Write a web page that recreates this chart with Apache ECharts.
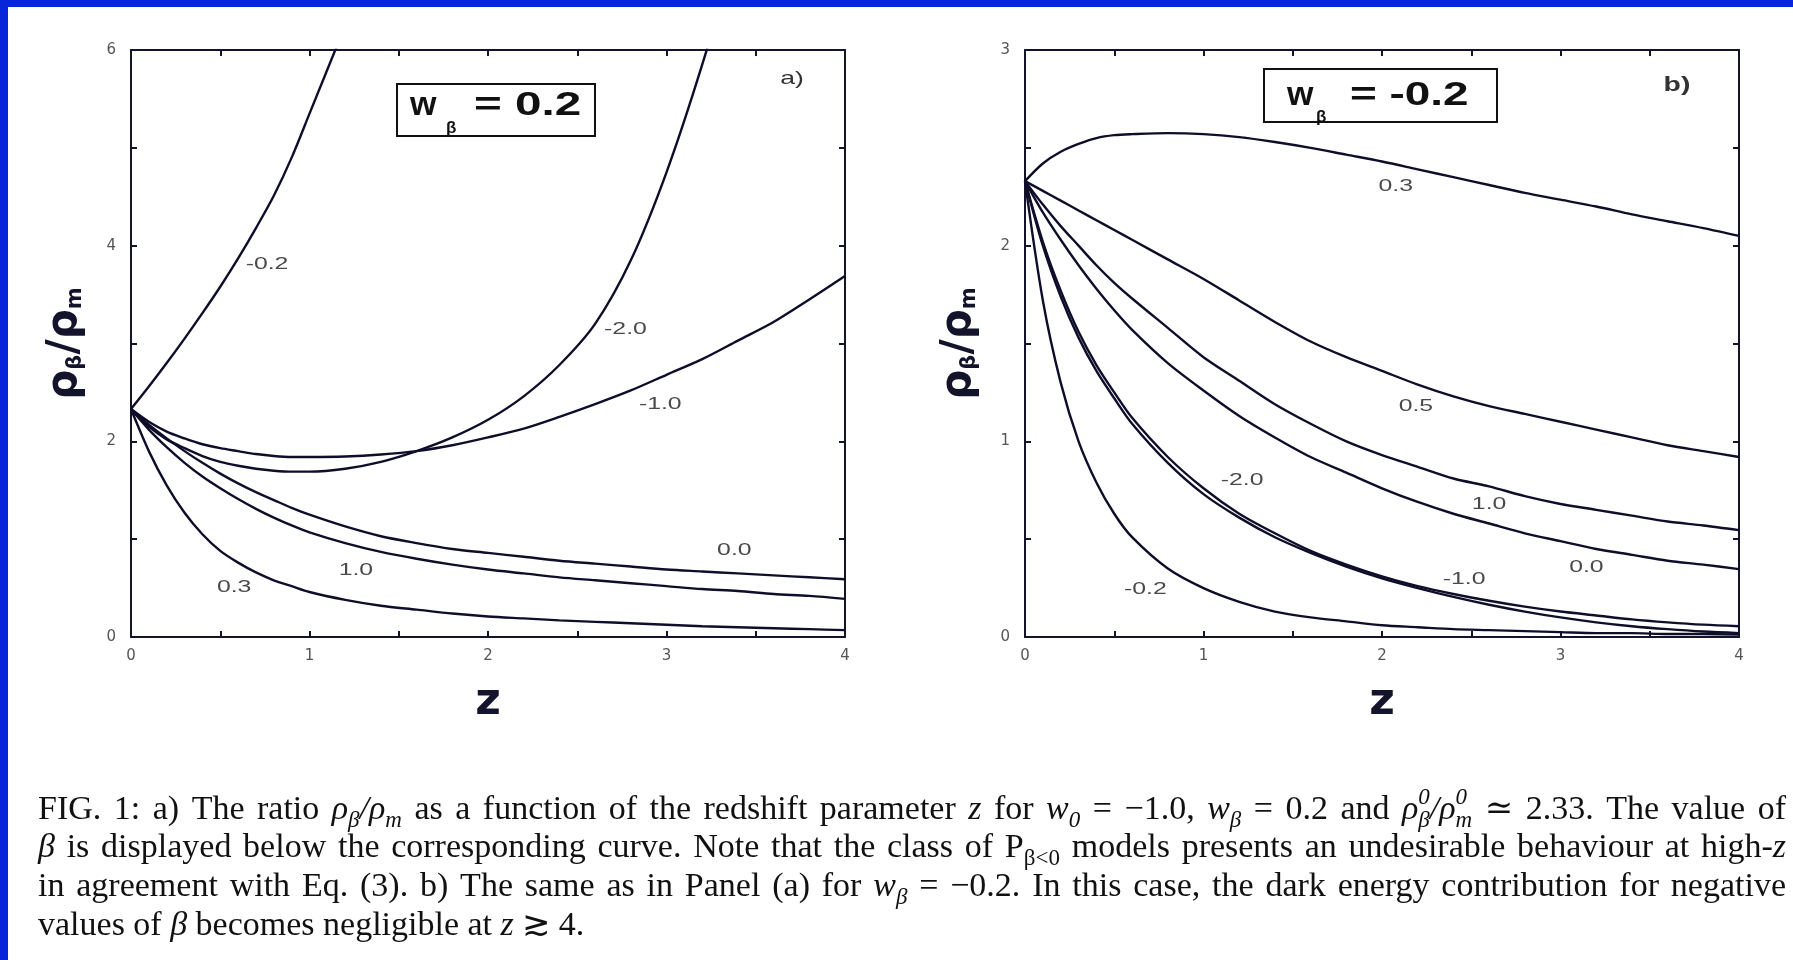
<!DOCTYPE html>
<html><head><meta charset="utf-8">
<script src="https://cdn.jsdelivr.net/npm/echarts@6/dist/echarts.min.js"></script>
<style>html,body{margin:0;padding:0;background:#fff;}#c{width:1793px;height:960px;}</style>
</head><body><div id="c"></div>
<script>
// ---------- DATA ----------
// Panel a (w_beta = 0.2): common redshift grid
const zA = [0,0.1,0.2,0.3,0.4,0.5,0.6,0.7,0.8,0.9,1.0,1.2,1.4,1.6,1.8,2.0,2.2,2.4,2.6,2.8,3.0,3.2,3.4,3.6,3.8,4.0];
const aBetaM02 = [2.33,2.56,2.80,3.05,3.31,3.58,3.87,4.18,4.51,4.90,5.35,6.25,null,null,null,null,null,null,null,null,null,null,null,null,null,null];
const aBetaM20 = [2.33,2.15,2.02,1.93,1.85,1.79,1.75,1.72,1.70,1.69,1.69,1.72,1.79,1.90,2.04,2.22,2.46,2.78,3.20,3.85,4.75,5.85,7.10,null,null,null];
const aBetaM10 = [2.33,2.20,2.10,2.03,1.97,1.93,1.90,1.87,1.85,1.84,1.84,1.845,1.865,1.90,1.96,2.04,2.13,2.25,2.38,2.52,2.68,2.84,3.03,3.22,3.45,3.69];
const aBeta00  = [2.33,2.17,2.03,1.90,1.78,1.67,1.57,1.48,1.40,1.32,1.25,1.13,1.03,0.96,0.90,0.86,0.82,0.78,0.75,0.72,0.69,0.67,0.65,0.63,0.61,0.59];
const aBeta10  = [2.33,2.12,1.94,1.78,1.64,1.52,1.41,1.31,1.22,1.14,1.07,0.96,0.87,0.80,0.74,0.69,0.65,0.61,0.58,0.55,0.52,0.49,0.47,0.44,0.42,0.39];
const aBeta03  = [2.33,1.90,1.55,1.27,1.05,0.88,0.76,0.66,0.58,0.52,0.46,0.38,0.32,0.28,0.24,0.21,0.19,0.17,0.155,0.14,0.125,0.11,0.10,0.09,0.08,0.07];

// Panel b (w_beta = -0.2)
const zB = [0,0.1,0.2,0.3,0.4,0.5,0.6,0.8,1.0,1.2,1.4,1.6,1.8,2.0,2.2,2.4,2.6,2.8,3.0,3.2,3.4,3.6,3.8,4.0];
const bBeta03  = [2.33,2.42,2.48,2.52,2.55,2.565,2.57,2.575,2.57,2.555,2.53,2.50,2.465,2.43,2.39,2.35,2.31,2.27,2.235,2.20,2.16,2.125,2.09,2.05];
const bBeta05  = [2.33,2.28,2.23,2.18,2.13,2.08,2.03,1.93,1.83,1.72,1.61,1.51,1.43,1.36,1.29,1.23,1.18,1.14,1.10,1.06,1.02,0.98,0.95,0.92];
const bBeta10  = [2.33,2.21,2.10,2.00,1.90,1.81,1.73,1.58,1.43,1.31,1.19,1.09,1.00,0.93,0.87,0.81,0.77,0.72,0.68,0.65,0.62,0.59,0.57,0.546];
const bBeta00  = [2.33,2.17,2.03,1.90,1.78,1.67,1.57,1.40,1.26,1.13,1.02,0.92,0.84,0.76,0.69,0.63,0.58,0.53,0.49,0.45,0.42,0.39,0.37,0.347];
const bBetaM10 = [2.33,2.02,1.77,1.56,1.39,1.25,1.12,0.92,0.76,0.63,0.53,0.44,0.37,0.31,0.26,0.22,0.185,0.155,0.13,0.11,0.09,0.075,0.063,0.055];
const bBetaM20 = [2.33,2.00,1.74,1.53,1.36,1.22,1.09,0.89,0.73,0.61,0.51,0.43,0.36,0.30,0.25,0.205,0.165,0.13,0.10,0.075,0.055,0.04,0.028,0.02];
const bBetaM02 = [2.33,1.72,1.30,1.00,0.79,0.63,0.51,0.35,0.25,0.18,0.13,0.10,0.08,0.06,0.05,0.04,0.035,0.03,0.025,0.02,0.02,0.015,0.015,0.012];

// Curve labels (beta values), in data units
const labelTextA = ['-0.2','-2.0','-1.0','0.0','1.0','0.3'];
const labelZA    = [0.762, 2.77, 2.965, 3.38, 1.26, 0.578];
const labelVA    = [3.81, 3.14, 2.38, 0.88, 0.68, 0.51];
const labelTextB = ['0.3','0.5','1.0','0.0','-2.0','-1.0','-0.2'];
const labelZB    = [2.077, 2.19, 2.60, 3.145, 1.216, 2.46, 0.674];
const labelVB    = [2.30, 1.18, 0.675, 0.353, 0.80, 0.294, 0.24];

// Axis tick settings
const xMin = 0, xMax = 4, xStep = 0.5;
const yMaxA = 6, yStepA = 1, yMaxB = 3, yStepB = 0.5;

const captionLines = [
 "FIG. 1: a) The ratio $ρ_{β}/ρ_{m}$ as a function of the redshift parameter $z$ for $w_{0}$ = −1.0, $w_{β}$ = 0.2 and $ρ^{0}_{β}/ρ^{0}_{m}$ ≃ 2.33. The value of",
 "$β$ is displayed below the corresponding curve. Note that the class of P_{β<0} models presents an undesirable behaviour at high-$z$",
 "in agreement with Eq. (3). b) The same as in Panel (a) for $w_{β}$ = −0.2. In this case, the dark energy contribution for negative",
 "values of $β$ becomes negligible at $z$ ≳ 4."
];

// ---------- CHART ----------
const AX = '#13132c';
const LINE = '#0e0e2a';
const chart = echarts.init(document.getElementById('c'), null, {renderer:'canvas', width:1793, height:960});

function xAxis(gi, pos){
  const bottom = pos === 'bottom';
  return {
    type:'value', gridIndex:gi, position:pos, min:xMin, max:xMax, interval:xStep,
    axisLine:{show:true, onZero:false, lineStyle:{color:AX, width:2}},
    axisTick:{show:true, inside:true, length:6, lineStyle:{color:AX, width:2}},
    splitLine:{show:false},
    axisLabel: bottom ? {show:true, color:'#555', fontSize:15, fontFamily:'DejaVu Sans', margin:12,
                formatter: v => Number.isInteger(v) ? String(v) : ''} : {show:false},
    name: bottom ? 'z' : '', nameLocation:'middle', nameGap:44,
    nameTextStyle:{fontSize:44, fontWeight:'bold', fontFamily:'DejaVu Sans', color:AX}
  };
}
function yAxis(gi, pos, max, step, labelEvery){
  const left = pos === 'left';
  return {
    type:'value', gridIndex:gi, position:pos, min:0, max:max, interval:step,
    axisLine:{show:true, onZero:false, lineStyle:{color:AX, width:2}},
    axisTick:{show:true, inside:true, length:6, lineStyle:{color:AX, width:2}},
    splitLine:{show:false},
    axisLabel: left ? {show:true, color:'#555', fontSize:15, fontFamily:'DejaVu Sans', margin:15,
                formatter: v => (Math.abs(v/labelEvery - Math.round(v/labelEvery)) < 1e-9) ? String(v) : ''} : {show:false},
    name: left ? 'ρ{s|β}/ρ{s|m}' : '', nameLocation:'middle', nameGap:45, nameRotate:90,
    nameTextStyle:{fontSize:42, fontWeight:'bold', fontFamily:'DejaVu Sans', color:AX,
      rich:{s:{fontSize:21, fontWeight:'bold', fontFamily:'DejaVu Sans', color:AX, verticalAlign:'bottom'}}}
  };
}
function lineSeries(xi, zs, vs){
  return {type:'line', xAxisIndex:xi, yAxisIndex:xi, data: zs.map((z,i)=>[z, vs[i]]),
    showSymbol:false, symbol:'none', smooth:0.3, clip:true, silent:true, connectNulls:false,
    lineStyle:{color:LINE, width:2.4}};
}

const series = [];
[aBetaM02,aBetaM20,aBetaM10,aBeta00,aBeta10,aBeta03].forEach(v => series.push(lineSeries(0, zA, v)));
[bBeta03,bBeta05,bBeta10,bBeta00,bBetaM10,bBetaM20,bBetaM02].forEach(v => series.push(lineSeries(2, zB, v)));

chart.setOption({
  animation:false, backgroundColor:'#ffffff',
  grid:[{left:131, top:50, width:714, height:587}, {left:1025, top:50, width:714, height:587}],
  xAxis:[xAxis(0,'bottom'), xAxis(0,'top'), xAxis(1,'bottom'), xAxis(1,'top')],
  yAxis:[yAxis(0,'left',yMaxA,yStepA,2), yAxis(0,'right',yMaxA,yStepA,2), yAxis(1,'left',yMaxB,yStepB,1), yAxis(1,'right',yMaxB,yStepB,1)],
  series: series
});

// ---------- GRAPHICS ----------
const G = [];
G.push({type:'rect', shape:{x:0,y:0,width:1793,height:7}, style:{fill:'#0726d9'}, silent:true});
G.push({type:'rect', shape:{x:0,y:0,width:8,height:960}, style:{fill:'#0726d9'}, silent:true});

function txt(text, x, y, font, fill, align, sx){
  return {type:'text', x:x, y:y, scaleX: sx||1, silent:true,
    style:{text:text, font:font, fill:fill, align:align||'left', verticalAlign:'middle', textAlign:align||'left', textVerticalAlign:'middle'}};
}

// curve labels
function addLabels(texts, zs, vs, xi){
  texts.forEach((t,i) => {
    const p = chart.convertToPixel({xAxisIndex:xi, yAxisIndex:xi}, [zs[i], vs[i]]);
    G.push(txt(t, p[0], p[1], '16px "Liberation Sans", Arial, sans-serif', '#4a4a4a', 'center', 1.55));
  });
}
addLabels(labelTextA, labelZA, labelVA, 0);
addLabels(labelTextB, labelZB, labelVB, 2);

// panel tags
G.push(txt('a)', 792, 79, '19px "Liberation Sans", Arial, sans-serif', '#333', 'center', 1.4));
G.push(txt('b)', 1677, 85, 'bold 21px "Liberation Sans", Arial, sans-serif', '#333', 'center', 1.35));

// w_beta boxes
const BF = 'bold 34px "Liberation Sans", Arial, sans-serif';
G.push({type:'rect', shape:{x:397,y:84,width:198,height:52}, style:{fill:'#fff', stroke:'#111', lineWidth:2}, silent:true});
G.push(txt('w', 410, 106, BF, '#111', 'left', 1));
G.push(txt('β', 446, 128, 'bold 17px "Liberation Sans", Arial, sans-serif', '#111', 'left', 1));
G.push(txt('= 0.2', 474, 106, BF, '#111', 'left', 1.4));
G.push({type:'rect', shape:{x:1264,y:69,width:233,height:53}, style:{fill:'#fff', stroke:'#111', lineWidth:2}, silent:true});
G.push(txt('w', 1287, 96, BF, '#111', 'left', 1));
G.push(txt('β', 1316, 117, 'bold 17px "Liberation Sans", Arial, sans-serif', '#111', 'left', 1));
G.push(txt('= -0.2', 1350, 96, BF, '#111', 'left', 1.35));

// caption (justified)
const S = 34;
const FAM = '"Liberation Serif", "DejaVu Serif", serif';
const ctx = document.createElement('canvas').getContext('2d');
function fontOf(it, size){ return (it ? 'italic ' : '') + size + 'px ' + FAM; }
function parseWord(w){
  const segs = []; let it = false, i = 0, cur = '';
  const push = (t, pos) => { if (t) segs.push({t:t, it:it, pos:pos}); };
  while (i < w.length){
    const c = w[i];
    if (c === '$'){ push(cur,'n'); cur=''; it = !it; i++; }
    else if ((c === '_' || c === '^') && w[i+1] === '{'){
      push(cur,'n'); cur='';
      const j = w.indexOf('}', i);
      push(w.slice(i+2, j), c === '_' ? 'sub' : 'sup'); i = j + 1;
    } else { cur += c; i++; }
  }
  push(cur,'n');
  return segs;
}
function layoutWord(segs){
  let x = 0, supStart = 0, supW = 0;
  const out = [];
  segs.forEach((s,k) => {
    const size = s.pos === 'n' ? S : Math.round(S*0.68);
    ctx.font = fontOf(s.it, size);
    const w = ctx.measureText(s.t).width;
    let sx = x;
    if (s.pos === 'sub' && k > 0 && segs[k-1].pos === 'sup'){ sx = supStart; x = sx + Math.max(w, supW); }
    else x = sx + w;
    if (s.pos === 'sup'){ supStart = sx; supW = w; }
    out.push({t:s.t, it:s.it, pos:s.pos, x:sx, size:size});
  });
  return {segs:out, width:x};
}
const capLeft = 38, capRight = 1786, capY = [810, 848.5, 887.5, 926];
ctx.font = fontOf(false, S);
const spaceW = ctx.measureText(' ').width;
captionLines.forEach((line, li) => {
  const words = line.split(' ').map(w => layoutWord(parseWord(w)));
  const total = words.reduce((a,w) => a + w.width, 0);
  const justify = li < captionLines.length - 1;
  const gap = justify ? (capRight - capLeft - total) / (words.length - 1) : spaceW;
  let x = capLeft;
  words.forEach(w => {
    w.segs.forEach(s => {
      const dy = s.pos === 'sub' ? S*0.32 : (s.pos === 'sup' ? -S*0.36 : 0);
      G.push(txt(s.t, x + s.x, capY[li] + dy, fontOf(s.it, s.size), '#111', 'left', 1));
    });
    x += w.width + gap;
  });
});

chart.setOption({graphic: G});
</script></body></html>
